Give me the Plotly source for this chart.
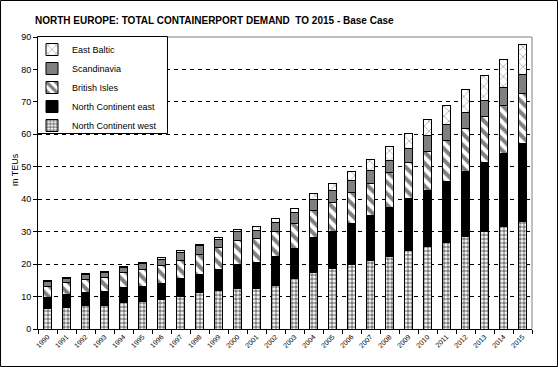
import plotly.graph_objects as go

years = [str(y) for y in range(1990, 2016)]
north_continent_west = [6.4, 6.7, 7.3, 7.3, 8.3, 8.6, 9.2, 10.0, 11.1, 11.9, 12.6, 12.6, 13.4,
                        15.5, 17.3, 18.5, 19.9, 21.2, 22.5, 24.1, 25.3, 26.8, 28.4, 29.9, 31.5, 33.0]
north_continent_east = [3.2, 3.9, 4.0, 4.3, 4.6, 4.6, 4.9, 5.5, 5.8, 6.5, 7.3, 7.8, 9.0,
                        9.3, 10.9, 11.6, 12.6, 13.8, 14.9, 16.0, 17.5, 18.75, 20.1, 21.3, 22.55, 24.1]
british_isles = [3.6, 3.6, 3.9, 4.3, 4.4, 5.0, 5.4, 5.7, 6.1, 6.6, 7.4, 7.4, 7.7,
                 7.7, 8.2, 8.9, 9.5, 9.9, 10.8, 11.3, 11.8, 12.6, 13.3, 14.4, 14.95, 15.55]
scandinavia = [1.5, 1.4, 1.55, 1.65, 1.75, 1.85, 2.05, 2.35, 2.6, 2.55, 2.8, 2.6, 2.7,
               3.3, 3.5, 3.6, 3.7, 3.9, 3.8, 4.3, 5.05, 4.95, 4.95, 4.85, 5.45, 5.9]
east_baltic = [0.3, 0.3, 0.3, 0.3, 0.3, 0.6, 0.5, 0.6, 0.5, 0.6, 0.5, 1.2, 1.2,
               1.3, 1.9, 2.3, 2.8, 3.5, 4.1, 4.6, 4.95, 5.9, 7.0, 7.7, 8.55, 9.0]
y_ticks = list(range(0, 100, 10))

FONT = "Liberation Sans, Arial, sans-serif"

series = [
    ("North Continent west", north_continent_west,
     dict(shape=".", size=4, solidity=0.65, fgcolor="black", bgcolor="white", fillmode="overlay")),
    ("North Continent east", north_continent_east, None),
    ("British Isles", british_isles,
     dict(shape="\\", size=8, solidity=0.5, fgcolor="black", bgcolor="white", fillmode="overlay")),
    ("Scandinavia", scandinavia, None),
    ("East Baltic", east_baltic,
     dict(shape="x", size=7, solidity=0.15, fgcolor="black", bgcolor="white", fillmode="overlay")),
]
solid_colors = {"North Continent east": "black", "Scandinavia": "#808080"}

fig = go.Figure()
for name, vals, pat in series:
    marker = dict(line=dict(color="black", width=1))
    if pat is None:
        marker["color"] = solid_colors[name]
    else:
        marker["color"] = "white"
        marker["pattern"] = pat
    fig.add_trace(go.Bar(x=years, y=vals, name=name, marker=marker, hoverinfo="skip"))

W, H = 558, 367
L, R, T, B = 38, 26, 37, 38
pw, ph = W - L - R, H - T - B


def px_x(px):
    return (px - L) / pw


def px_y(py):
    return (H - B - py) / ph


fig.update_layout(
    template="none",
    width=W, height=H,
    margin=dict(l=L, r=R, t=T, b=B, autoexpand=False),
    barmode="stack", bargap=0.55,
    paper_bgcolor="white", plot_bgcolor="white",
    font=dict(family=FONT, size=9, color="black"),
    title=dict(text="<b>NORTH EUROPE: TOTAL CONTAINERPORT DEMAND  TO 2015 - Base Case</b>",
               x=35 / W, xanchor="left", xref="container",
               y=1 - 20 / H, yanchor="middle", yref="container",
               font=dict(family=FONT, size=10, color="black")),
    showlegend=True,
    legend=dict(x=px_x(32), y=px_y(35), xanchor="left", yanchor="top", traceorder="reversed",
                bgcolor="rgba(0,0,0,0)", borderwidth=0,
                font=dict(family=FONT, size=9, color="black"),
                itemwidth=30),
    xaxis=dict(type="category", showline=True, linecolor="black", linewidth=1,
               ticks="outside", ticklen=4, tickcolor="black", tickson="boundaries",
               tickangle=-45, tickfont=dict(size=7, color="black"), showgrid=False,
               automargin=False, range=[-0.5, len(years) - 0.5], fixedrange=True),
    yaxis=dict(range=[0, 90], tickvals=y_ticks, showline=True, linecolor="black", linewidth=1,
               ticks="outside", ticklen=4, tickcolor="black", tickfont=dict(size=9, color="black"),
               showgrid=True, gridcolor="black", gridwidth=1, griddash="4px,4px",
               zeroline=False, automargin=False, fixedrange=True),
    shapes=[
        dict(type="line", xref="paper", yref="paper", x0=0, x1=1, y0=1, y1=1,
             line=dict(color="#808080", width=1)),
        dict(type="line", xref="paper", yref="paper", x0=1, x1=1, y0=0, y1=1,
             line=dict(color="#808080", width=1)),
        dict(type="rect", xref="paper", yref="paper",
             x0=px_x(0.5), x1=px_x(W - 0.5), y0=px_y(H - 0.5), y1=px_y(0.5),
             line=dict(color="black", width=1)),
        dict(type="rect", xref="paper", yref="paper", layer="above",
             x0=px_x(37.5), x1=px_x(167.5), y0=px_y(133.5), y1=px_y(36.5),
             fillcolor="white", line=dict(color="black", width=1)),
    ],
    annotations=[
        dict(text="m TEUs", xref="paper", yref="paper", x=px_x(15), y=px_y(170),
             textangle=-90, showarrow=False, xanchor="center", yanchor="middle",
             font=dict(family=FONT, size=9, color="black")),
    ],
)

fig.write_html("out.html", config={"displayModeBar": False},
               post_script="document.body.style.margin='0';")
